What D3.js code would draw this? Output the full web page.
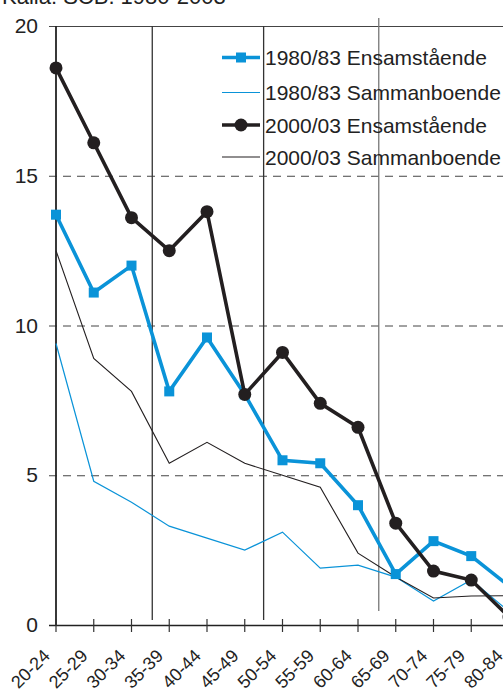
<!DOCTYPE html>
<html>
<head>
<meta charset="utf-8">
<script src="https://cdn.jsdelivr.net/npm/d3@7"></script>
<style>
  body { margin: 0; background: #fff; }
  svg { display: block; font-family: "Liberation Sans", Arial, sans-serif; }
</style>
</head>
<body>
<svg width="503" height="691"></svg>
<script>
// age groups and shares (percent)
var ageGroups = ["20-24","25-29","30-34","35-39","40-44","45-49","50-54","55-59","60-64","65-69","70-74","75-79","80-84"];

var ensam1980 = [13.7, 11.1, 12.0, 7.8, 9.6, 7.7, 5.5, 5.4, 4.0, 1.7, 2.8, 2.3, 1.3];
var samman1980 = [9.4, 4.8, 4.1, 3.3, 2.9, 2.5, 3.1, 1.9, 2.0, 1.6, 0.8, 1.5, 0.45];
var ensam2000 = [18.6, 16.1, 13.6, 12.5, 13.8, 7.7, 9.1, 7.4, 6.6, 3.4, 1.8, 1.5, 0.27];
var samman2000 = [12.5, 8.9, 7.8, 5.4, 6.1, 5.4, 5.0, 4.6, 2.4, 1.6, 0.9, 0.97, 0.98];

var yTicks = [0, 5, 10, 15, 20];
var separators = [2.55, 5.5, 8.55]; // vertical lines between groups (index units)

var width = 503;
var height = 691;
var margin = {left: 56, top: 26, bottom: 66};

var svg = d3.select('svg');

var xScale = d3.scaleLinear().domain([0, ageGroups.length - 1]).range([margin.left, margin.left + 37.75 * 12]);
var yScale = d3.scaleLinear().domain([0, 20]).range([height - margin.bottom, margin.top]);

svg.append("text")
  .attr("x", 2)
  .attr("y", 4)
  .style("font-size", "22px")
  .attr("fill", "#222")
  .text("Källa: SCB. 1980-2003");

// y axis with gridlines
var axisLeft = d3.axisLeft(yScale).tickValues(yTicks).tickSizeInner(-(width - margin.left)).tickSizeOuter(0).tickPadding(18);
var gy = svg.append('g')
  .attr("transform", "translate(" + margin.left + ",0)")
  .call(axisLeft);
gy.select(".domain").remove();
gy.selectAll(".tick line")
  .attr("x1", -7)
  .attr("stroke", function(d) { return d == 0 ? "#222" : "#444"; })
  .attr("stroke-width", function(d) { return d == 0 ? 1.6 : 1; })
  .attr("stroke-dasharray", function(d) { return (d == 0 || d == 20) ? null : "8,6"; });
gy.selectAll(".tick text")
  .style("font-size", "21px")
  .style("font-family", "Liberation Sans, Arial, sans-serif")
  .attr("fill", "#222");

// separators
svg.selectAll("line.sep")
  .data(separators)
  .enter()
  .append("line")
  .attr("class", "sep")
  .attr("x1", xScale).attr("x2", xScale)
  .attr("y1", function(d, i) { return i == 2 ? 18 : yScale(20); })
  .attr("y2", function(d, i) { return i == 2 ? 611 : 620; })
  .attr("stroke", function(d, i) { return i == 2 ? "#777" : "#333"; })
  .attr("stroke-width", 1.3);

// left axis line
svg.append("line")
  .attr("x1", margin.left).attr("x2", margin.left)
  .attr("y1", yScale(20)).attr("y2", yScale(0))
  .attr("stroke", "#222").attr("stroke-width", 1.8);

// x axis ticks and labels
var gx = svg.append('g')
  .attr("transform", "translate(0," + yScale(0) + ")");
gx.selectAll("line")
  .data(ageGroups)
  .enter()
  .append("line")
  .attr("x1", function(d, i) { return xScale(i); })
  .attr("x2", function(d, i) { return xScale(i); })
  .attr("y1", -6).attr("y2", 7)
  .attr("stroke", "#333").attr("stroke-width", 1.2);
gx.selectAll("text")
  .data(ageGroups)
  .enter()
  .append("text")
  .attr("transform", function(d, i) { return "translate(" + (xScale(i) - 5) + ",32) rotate(-45)"; })
  .style("text-anchor", "end")
  .style("font-size", "18px")
  .attr("fill", "#222")
  .text(function(d) { return d; });

var blue = "#0a93d8";
var black = "#231f20";

var series = [
  {name: "1980/83 Ensamstående", values: samman1980, color: blue, w: 1.2, marker: null},
  {name: "2000/03 Sammanboende", values: samman2000, color: black, w: 1.1, marker: null},
  {name: "1980/83 Ensamstående", values: ensam1980, color: blue, w: 3.6, marker: "square"},
  {name: "2000/03 Ensamstående", values: ensam2000, color: black, w: 3.6, marker: "circle"}
];

var line = d3.line()
  .x(function(d, i) { return xScale(i); })
  .y(function(d) { return yScale(d); });

series.forEach(function(s) {
  svg.append("path")
    .datum(s.values)
    .attr("d", line)
    .attr("fill", "none")
    .attr("stroke", s.color)
    .attr("stroke-width", s.w)
    .attr("stroke-linejoin", "miter");
  if (s.marker == "square") {
    svg.selectAll(null)
      .data(s.values)
      .enter()
      .append("rect")
      .attr("x", function(d, i) { return xScale(i) - 5; })
      .attr("y", function(d) { return yScale(d) - 5; })
      .attr("width", 10).attr("height", 10)
      .attr("fill", s.color);
  } else if (s.marker == "circle") {
    svg.selectAll(null)
      .data(s.values)
      .enter()
      .append("circle")
      .attr("cx", function(d, i) { return xScale(i); })
      .attr("cy", function(d) { return yScale(d); })
      .attr("r", 6.5)
      .attr("fill", s.color);
  }
});

// legend
var legendItems = [
  {label: "1980/83 Ensamstående", color: blue, w: 3.6, marker: "square"},
  {label: "1980/83 Sammanboende", color: blue, w: 1.2, marker: null},
  {label: "2000/03 Ensamstående", color: black, w: 3.6, marker: "circle"},
  {label: "2000/03 Sammanboende", color: black, w: 1.1, marker: null}
];
var legendY = [57.5, 92.5, 125, 157];

var lg = svg.selectAll("g.legend")
  .data(legendItems)
  .enter()
  .append("g")
  .attr("class", "legend")
  .attr("transform", function(d, i) { return "translate(222," + legendY[i] + ")"; });
lg.append("line")
  .attr("x1", 0).attr("x2", 38)
  .attr("stroke", function(d) { return d.color; })
  .attr("stroke-width", function(d) { return d.w; });
lg.filter(function(d) { return d.marker == "square"; })
  .append("rect")
  .attr("x", 14).attr("y", -5).attr("width", 10).attr("height", 10)
  .attr("fill", function(d) { return d.color; });
lg.filter(function(d) { return d.marker == "circle"; })
  .append("circle")
  .attr("cx", 19).attr("r", 6.5)
  .attr("fill", function(d) { return d.color; });
lg.append("text")
  .attr("x", 43)
  .attr("y", 7.5)
  .style("font-size", "21px")
  .attr("fill", "#222")
  .text(function(d) { return d.label; });
</script>
</body>
</html>
